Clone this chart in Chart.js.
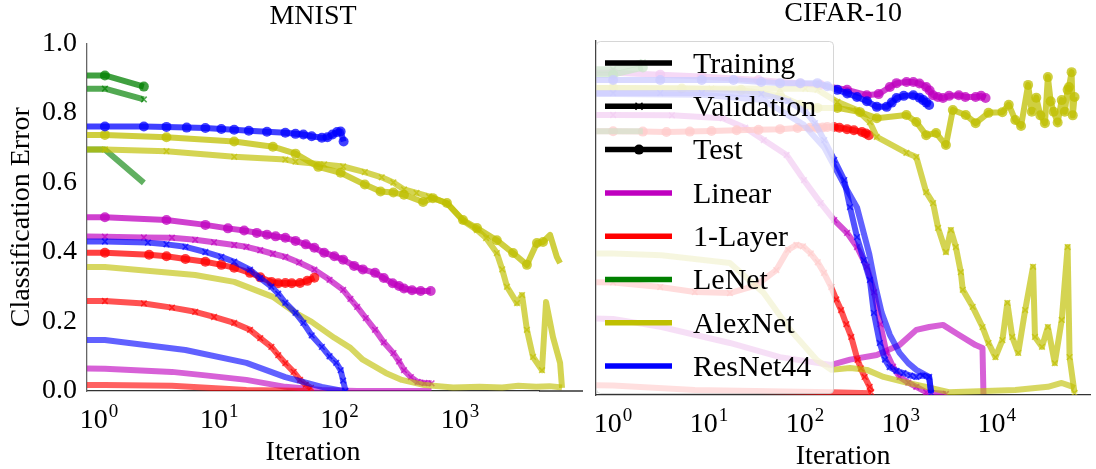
<!DOCTYPE html>
<html>
<head>
<meta charset="utf-8">
<title>Classification error - MNIST / CIFAR-10</title>
<script src="https://cdn.jsdelivr.net/npm/chart.js@4.4.1/dist/chart.umd.min.js"></script>
<style>
  html, body { margin: 0; padding: 0; background: #fff; }
  #figure { position: relative; width: 1096px; height: 469px; overflow: hidden; }
  #mnistChart { position: absolute; left: 0; top: 0; }
  #cifarChart { position: absolute; left: 583px; top: 0; }
</style>
</head>
<body>
<div id="figure">
  <canvas id="mnistChart" width="595" height="469"></canvas>
  <canvas id="cifarChart" width="513" height="469"></canvas>
</div>
<script>
const FONT = "'Liberation Serif', 'Times New Roman', serif";

// iteration 0 has no place on a log axis: it sits just left of the axis and gets clipped
const ZERO_AT = 0.3;

const models = ['Linear', '1-Layer', 'LeNet', 'AlexNet', 'ResNet44'];
const splits = ['Training', 'Validation', 'Test'];
const legendLabels = splits.concat(models);
const xTickValues = [1, 10, 100, 1000, 10000];

// ---- MNIST : [iteration, classification error] ----
const mnistLinearTrain = [[0,.066],[1.12,.064],[4.04,.055],[7.66,.045],[16.8,.032],[35.4,.012],[71.2,.003],[140,0],[581,0]];
const mnistLinearVal = [[0,.445],[1.12,.444],[2.36,.442],[4.04,.441],[6.3,.435],[9.04,.428],[13.3,.42],[16.8,.415],[21.9,.405],[27.9,.395],[35.4,.386],[46.1,.37],[61.7,.349],[82.5,.32],[107,.291],[123,.265],[140,.242],[165,.21],[197,.176],[233,.14],[280,.109],[312,.085],[343,.06],[391,.04],[445,.026],[508,.023],[581,.022]];
const mnistLinearTest = [[0,.501],[1.12,.5],[3.64,.492],[7.66,.478],[11.8,.468],[16.1,.462],[20.5,.455],[24.9,.45],[29.4,.445],[35.4,.441],[43,.432],[52.3,.422],[61.7,.412],[74.4,.398],[90.5,.388],[107,.378],[132,.36],[156,.35],[197,.34],[233,.325],[276,.31],[312,.302],[343,.295],[400,.29],[472,.288],[572,.288]];

const mnistOneLayerTrain = [[0,.017],[1.12,.017],[4.04,.015],[16.8,.003],[58.6,0]];
const mnistOneLayerVal = [[0,.259],[1.12,.259],[2.36,.252],[4.04,.24],[6.3,.228],[9.04,.213],[13.3,.196],[18,.176],[21.9,.152],[27.1,.127],[30.9,.103],[35.4,.08],[41.5,.055],[46.9,.032],[52.3,.018],[57.8,.009]];
const mnistOneLayerTest = [[0,.398],[1.12,.398],[2.61,.392],[3.64,.388],[5.23,.38],[7.66,.372],[10.4,.363],[13.3,.355],[18,.34],[21.9,.327],[27.1,.314],[30.9,.31],[35.4,.311],[40,.31],[46.9,.311],[53.9,.317],[61.7,.326]];

const mnistLeNetTrain = [[0,.695],[1.12,.695],[2.36,.599]];
const mnistLeNetVal = [[0,.870],[1.12,.870],[2.36,.839]];
const mnistLeNetTest = [[0,.908],[1.12,.908],[2.36,.876]];

const mnistAlexNetTrain = [[0,.357],[1.12,.357],[6.3,.334],[13.3,.314],[27.9,.271],[43,.225],[58.6,.199],[90.5,.153],[123,.124],[156,.09],[242,.052],[329,.032],[508,.017],[879,.01],[1456,.012],[2247,.01],[3060,.015],[4305,.012],[5577,.014],[7063,.01]];
const mnistAlexNetVal = [[0,.695],[1.12,.695],[3.64,.69],[13.3,.674],[35.4,.666],[43,.66],[74.4,.652],[107,.646],[162,.63],[224,.615],[280,.60],[343,.58],[436,.57],[552,.56],[783,.54],[1061,.49],[1387,.463],[1651,.44],[2027,.397],[2247,.35],[2463,.30],[2985,.253],[3286,.276],[3607,.176],[4055,.098],[4811,.06],[5203,.256],[5940,.155],[6802,.081],[7063,.009]];
const mnistAlexNetTest = [[0,.737],[1.12,.737],[3.64,.73],[13.3,.718],[27.9,.703],[43,.683],[66.5,.645],[102,.628],[162,.594],[219,.574],[280,.571],[343,.565],[494,.544],[596,.555],[780,.541],[1061,.492],[1387,.469],[2027,.434],[2766,.397],[3607,.363],[4368,.426],[4906,.429],[5618,.449],[6392,.386],[6802,.368]];

const mnistResNetTrain = [[0,.147],[1.12,.147],[5.23,.118],[16.8,.081],[35.4,.04],[71.2,.012],[107,0]];
const mnistResNetVal = [[0,.43],[1.12,.43],[2.55,.427],[3.64,.422],[5.23,.415],[7.66,.40],[10.4,.386],[13.3,.372],[18,.349],[21.9,.325],[27.1,.30],[30.9,.28],[35.4,.254],[43,.225],[50,.196],[58.6,.16],[71.2,.127],[82.5,.10],[93.7,.081],[102,.06],[107,.03],[112,0]];
const mnistResNetTest = [[0,.761],[1.12,.761],[2.36,.761],[3.64,.76],[5.36,.758],[7.66,.757],[10.4,.754],[13.3,.752],[17.6,.749],[24.9,.746],[35.4,.743],[43,.74],[50,.738],[58.6,.733],[71.2,.729],[79.2,.73],[87.3,.738],[95.3,.745],[102,.747],[108,.718]];

// ---- CIFAR-10 : [iteration, classification error] ----
const cifarLinearTrain = [[0,.218],[1,.215],[3.2,.192],[16.5,.147],[55,.107],[188,.085],[295,.10],[561,.113],[969,.141],[1450,.184],[1972,.192],[2750,.198],[3745,.175],[6018,.141],[7100,.133],[7265,.003]];
const cifarLinearVal = [[0,.791],[1,.791],[4.1,.79],[13.9,.782],[23.8,.755],[37.2,.72],[64.4,.678],[97.6,.607],[146,.542],[202,.494],[275,.458],[349,.418],[442,.362],[527,.29],[611,.2],[707,.12],[829,.08],[969,.051],[1195,.035],[1450,.023],[1837,.008],[2952,.003]];
const cifarLinearTest = [[0,.91],[1,.91],[3.1,.905],[8.4,.90],[32.8,.89],[89.5,.88],[145,.876],[275,.862],[442,.847],[587,.85],[768,.87],[902,.881],[1146,.884],[1349,.884],[1564,.88],[1837,.87],[1998,.86],[2168,.847],[2432,.842],[2750,.839],[3182,.845],[4022,.847],[4701,.842],[6018,.842],[6870,.845],[7642,.839]];

const cifarOneLayerTrain = [[0,.028],[1,.027],[7.1,.014],[188,.008],[491,.005]];
const cifarOneLayerVal = [[0,.319],[1,.318],[3.1,.305],[7.1,.291],[16.5,.288],[31,.31],[50.3,.353],[66.7,.41],[81.5,.424],[95.3,.42],[115,.40],[136,.375],[158,.345],[188,.305],[212,.27],[238,.24],[270,.2],[304,.164],[354,.099],[383,.075],[419,.051],[473,.023],[491,.008]];
const cifarOneLayerTest = [[0,.745],[1,.745],[2.04,.744],[3.6,.743],[6.3,.744],[10.6,.746],[19.4,.748],[32.8,.749],[55,.751],[83.8,.754],[113,.755],[135,.754],[153,.756],[171,.757],[200,.757],[229,.755],[275,.751],[324,.748],[393,.743],[431,.739],[464,.734]];

const cifarLeNetTrain = [[0,.745],[1,.745],[2.04,.745]];
const cifarLeNetVal = [[0,.92],[1,.92],[2.04,.94]];
const cifarLeNetTest = [[0,.905],[1,.905],[2.04,.925]];

const cifarAlexNetTrain = [[0,.40],[1,.40],[3.2,.395],[16.5,.373],[37.2,.288],[70,.184],[133,.099],[188,.071],[295,.076],[442,.071],[661,.051],[1064,.037],[1837,.023],[3169,.008],[15590,.014],[34110,.023],[47570,.034],[59310,.025],[64700,.02]];
const cifarAlexNetVal = [[0,.867],[1,.867],[10.6,.866],[55,.865],[101,.865],[135,.862],[218,.828],[349,.805],[475,.771],[561,.729],[1143,.684],[1450,.672],[1837,.573],[2168,.542],[2443,.472],[2952,.404],[3324,.466],[3745,.418],[4217,.347],[4423,.297],[5608,.249],[7100,.192],[8202,.147],[9691,.107],[11450,.155],[12890,.26],[14510,.164],[16740,.119],[19780,.24],[23900,.362],[25040,.164],[29620,.136],[34110,.192],[40290,.09],[47570,.212],[54800,.418],[57460,.107],[64700,.006]];
const cifarAlexNetTest = [[0,.867],[1,.867],[5.2,.866],[21.6,.862],[55,.845],[89.5,.82],[135,.811],[218,.811],[375,.799],[561,.782],[1143,.791],[1450,.771],[1837,.734],[2329,.74],[2952,.706],[3482,.805],[4748,.791],[6018,.768],[8202,.797],[11450,.799],[13340,.82],[15590,.777],[17920,.76],[21230,.876],[23180,.80],[25820,.84],[28470,.79],[31790,.768],[34110,.898],[36480,.83],[39150,.80],[43160,.77],[47570,.833],[51210,.80],[54800,.862],[56590,.87],[60290,.912],[62000,.79],[64700,.842]];

const cifarResNetTrain = [[0,.85],[1,.85],[8.4,.848],[37.2,.833],[97.6,.763],[158,.70],[258,.593],[349,.53],[467,.40],[551,.30],[632,.232],[768,.17],[969,.119],[1195,.09],[1450,.071],[1972,.051],[2068,.006]];
const cifarResNetVal = [[0,.853],[1,.853],[3.1,.853],[8.4,.853],[35,.85],[66.7,.83],[101,.80],[127,.768],[159,.72],[202,.664],[257,.607],[295,.531],[349,.446],[412,.381],[475,.325],[523,.232],[603,.147],[683,.10],[764,.079],[902,.068],[1064,.062],[1256,.055],[1450,.051],[1687,.055],[1972,.051],[2068,.006]];
const cifarResNetTest = [[0,.89],[1,.89],[3.1,.89],[8.4,.89],[18,.89],[35,.884],[55,.881],[89.5,.881],[135,.881],[171,.872],[218,.862],[276,.852],[349,.842],[443,.83],[561,.814],[711,.814],[804,.826],[902,.839],[1072,.845],[1349,.847],[1564,.84],[1710,.833],[1848,.826],[1972,.819]];

const mnistRuns = [
    ['Linear', 'Training', mnistLinearTrain], ['Linear', 'Validation', mnistLinearVal], ['Linear', 'Test', mnistLinearTest],
    ['1-Layer', 'Training', mnistOneLayerTrain], ['1-Layer', 'Validation', mnistOneLayerVal], ['1-Layer', 'Test', mnistOneLayerTest],
    ['LeNet', 'Training', mnistLeNetTrain], ['LeNet', 'Validation', mnistLeNetVal], ['LeNet', 'Test', mnistLeNetTest],
    ['AlexNet', 'Training', mnistAlexNetTrain], ['AlexNet', 'Validation', mnistAlexNetVal], ['AlexNet', 'Test', mnistAlexNetTest],
    ['ResNet44', 'Training', mnistResNetTrain], ['ResNet44', 'Validation', mnistResNetVal], ['ResNet44', 'Test', mnistResNetTest]
];
const cifarRuns = [
    ['Linear', 'Training', cifarLinearTrain], ['Linear', 'Validation', cifarLinearVal], ['Linear', 'Test', cifarLinearTest],
    ['1-Layer', 'Training', cifarOneLayerTrain], ['1-Layer', 'Validation', cifarOneLayerVal], ['1-Layer', 'Test', cifarOneLayerTest],
    ['LeNet', 'Training', cifarLeNetTrain], ['LeNet', 'Validation', cifarLeNetVal], ['LeNet', 'Test', cifarLeNetTest],
    ['AlexNet', 'Training', cifarAlexNetTrain], ['AlexNet', 'Validation', cifarAlexNetVal], ['AlexNet', 'Test', cifarAlexNetTest],
    ['ResNet44', 'Training', cifarResNetTrain], ['ResNet44', 'Validation', cifarResNetVal], ['ResNet44', 'Test', cifarResNetTest]
];

const modelColors = {
    'Linear': [191, 0, 191],
    '1-Layer': [255, 0, 0],
    'LeNet': [0, 128, 0],
    'AlexNet': [191, 191, 0],
    'ResNet44': [0, 0, 255]
};
const splitStyles = {
    'Training':   { alpha: 0.62, marker: null, radius: 0 },
    'Validation': { alpha: 0.68, marker: 'crossRot', radius: 4 },
    'Test':       { alpha: 0.75, marker: 'circle', radius: 5 }
};

function rgba(c, a) {
    return `rgba(${c[0]},${c[1]},${c[2]},${a})`;
}

function buildDatasets(runs, clipRight) {
    const sets = runs.map(([model, split, points]) => {
        const st = splitStyles[split];
        const color = rgba(modelColors[model], st.alpha);
        return {
            label: model + ' ' + split,
            data: points.map(([it, err]) => ({ x: it === 0 ? ZERO_AT : it, y: err })),
            borderColor: color,
            backgroundColor: color,
            borderWidth: 6,
            borderJoinStyle: 'round',
            pointStyle: st.marker || 'circle',
            pointRadius: (ctx) => (st.marker && ctx.raw && ctx.raw.x >= 1) ? st.radius : 0,
            pointBorderWidth: st.marker === 'crossRot' ? 1.6 : 0,
            pointBorderColor: color,
            pointBackgroundColor: color,
            pointHoverRadius: 0,
            tension: 0,
            fill: false,
            clip: { left: 0, top: 0, right: clipRight, bottom: 0 }
        };
    });
    // chart.js paints the first dataset on top, matplotlib the last one
    return sets.reverse();
}

// "10" with a raised exponent under every decade
const powerLabels = {
    id: 'powerLabels',
    afterDraw(chart) {
        const { ctx, chartArea } = chart;
        const x = chart.scales.x;
        ctx.save();
        ctx.fillStyle = '#000';
        ctx.textBaseline = 'alphabetic';
        xTickValues.forEach(v => {
            if (v < x.min || v > x.max) return;
            const exp = String(Math.round(Math.log10(v)));
            ctx.font = `28px ${FONT}`;
            const wBase = ctx.measureText('10').width;
            ctx.font = `19px ${FONT}`;
            const wExp = ctx.measureText(exp).width;
            const left = x.getPixelForValue(v) - (wBase + wExp + 1) / 2;
            ctx.font = `28px ${FONT}`;
            ctx.fillText('10', left, chartArea.bottom + 36.5);
            ctx.font = `19px ${FONT}`;
            ctx.fillText(exp, left + wBase + 1, chartArea.bottom + 25.5);
        });
        ctx.restore();
    }
};

// the bottom spine runs on past the right edge of the axes
const spineExtension = {
    id: 'spineExtension',
    afterDraw(chart, args, opts) {
        if (!opts.to) return;
        const { ctx, chartArea } = chart;
        ctx.save();
        ctx.strokeStyle = '#333';
        ctx.lineWidth = 1.3;
        ctx.beginPath();
        ctx.moveTo(chartArea.right, chartArea.bottom);
        ctx.lineTo(opts.to, chartArea.bottom);
        ctx.stroke();
        ctx.restore();
    }
};

const boxLegend = {
    id: 'boxLegend',
    afterDraw(chart, args, opts) {
        if (!opts.show) return;
        const { ctx, chartArea } = chart;
        const x0 = chartArea.left, y0 = chartArea.top;
        ctx.save();
        ctx.beginPath();
        ctx.roundRect(x0 + 0.5, y0 + 0.5, 237, 352, 4);
        ctx.fillStyle = 'rgba(255,255,255,0.8)';
        ctx.fill();
        ctx.strokeStyle = 'rgba(204,204,204,0.8)';
        ctx.lineWidth = 1;
        ctx.stroke();

        ctx.font = `30px ${FONT}`;
        ctx.textBaseline = 'middle';
        legendLabels.forEach((label, i) => {
            const y = y0 + 22 + i * 43.3;
            const isModel = models.includes(label);
            const color = isModel ? rgba(modelColors[label], 1) : '#000';
            ctx.strokeStyle = color;
            ctx.fillStyle = color;
            ctx.lineWidth = 5.5;
            ctx.beginPath();
            ctx.moveTo(x0 + 9, y);
            ctx.lineTo(x0 + 76, y);
            ctx.stroke();
            if (label === 'Validation') {
                ctx.lineWidth = 1.5;
                ctx.beginPath();
                ctx.moveTo(x0 + 39.5, y - 3.5); ctx.lineTo(x0 + 46.5, y + 3.5);
                ctx.moveTo(x0 + 46.5, y - 3.5); ctx.lineTo(x0 + 39.5, y + 3.5);
                ctx.stroke();
            }
            if (label === 'Test') {
                ctx.beginPath();
                ctx.arc(x0 + 43, y, 5, 0, Math.PI * 2);
                ctx.fill();
            }
            ctx.fillStyle = '#000';
            ctx.fillText(label, x0 + 97, y + 2);
        });
        ctx.restore();
    }
};

function makeChart(canvasId, opt) {
    const font = { family: FONT, size: 28, weight: 'normal' };
    return new Chart(document.getElementById(canvasId), {
        type: 'line',
        data: { datasets: buildDatasets(opt.runs, opt.clipRight) },
        plugins: [powerLabels, spineExtension, boxLegend],
        options: {
            responsive: false,
            animation: false,
            events: [],
            layout: { padding: { left: 0, right: opt.padRight, top: 0, bottom: 0 } },
            plugins: {
                legend: { display: false },
                tooltip: { enabled: false },
                title: {
                    display: true,
                    text: opt.title,
                    fullSize: false,
                    color: '#000',
                    font: { family: FONT, size: 28, weight: 'normal', lineHeight: 1.0 },
                    padding: opt.titlePad
                },
                spineExtension: { to: opt.spineTo },
                boxLegend: { show: opt.legend }
            },
            scales: {
                x: {
                    type: 'logarithmic',
                    bounds: 'data',
                    afterDataLimits: (s) => { s.min = opt.xMin; s.max = opt.xMax; },
                    grid: { display: false, drawTicks: false },
                    border: { display: true, color: '#333', width: 1.3 },
                    ticks: { display: false },
                    title: {
                        display: true, text: 'Iteration', color: '#000',
                        font: { family: FONT, size: 28, weight: 'normal', lineHeight: opt.xTitleLine },
                        padding: { top: 0, bottom: 0 }
                    },
                    afterFit: (s) => { s.height = 469 - opt.bottom; }
                },
                y: {
                    min: 0,
                    max: 1,
                    grid: { display: false, drawTicks: false },
                    border: { display: true, color: opt.ySpine, width: 1.3 },
                    ticks: {
                        display: opt.yLabels,
                        stepSize: 0.2,
                        color: '#000',
                        font: font,
                        padding: 10,
                        callback: (v) => v.toFixed(1)
                    },
                    title: {
                        display: opt.yLabels, text: 'Classification Error', color: '#000',
                        font: { family: FONT, size: 28, weight: 'normal', lineHeight: 1.2 },
                        padding: { top: 5, bottom: 0 }
                    },
                    afterFit: (s) => { s.width = opt.yWidth; }
                }
            }
        }
    });
}

makeChart('mnistChart', {
    runs: mnistRuns,
    title: 'MNIST',
    titlePad: { top: 3, bottom: 12.5 },
    xMin: 0.795, xMax: 4545,
    yWidth: 87, padRight: 56, bottom: 391,
    clipRight: 50, spineTo: 583,
    yLabels: true, ySpine: '#666',
    xTitleLine: 1.2, legend: false
});

makeChart('cifarChart', {
    runs: cifarRuns,
    title: 'CIFAR-10',
    titlePad: { top: 0, bottom: 13 },
    xMin: 0.663, xMax: 94700,
    yWidth: 13, padRight: 0, bottom: 395,
    clipRight: 0, spineTo: 0,
    yLabels: false, ySpine: '#444',
    xTitleLine: 0.85, legend: true
});
</script>
</body>
</html>
